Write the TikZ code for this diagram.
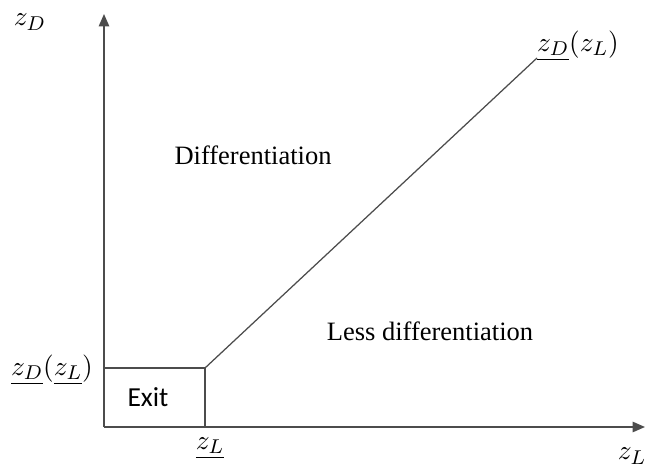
\documentclass[tikz,border=0pt]{standalone}
\usepackage{fontspec}
\setmainfont{Liberation Serif}
\newfontfamily\exitfont{Carlito}
\usetikzlibrary{arrows.meta}
\begin{document}
\begin{tikzpicture}[x=0.4pt, y=-0.4pt,
        axis/.style={draw=black!70, line width=0.6pt, -{Triangle[length=5pt,width=4.2pt]}},
        bound/.style={draw=black!70, line width=0.5pt},
        region/.style={font=\fontsize{10.6}{12}\selectfont},
        lbl/.style={font=\fontsize{11}{13}\selectfont, inner sep=1pt}]
        \useasboundingbox (0,0) rectangle (646,466);
        \coordinate (orig) at (104,427);
        \coordinate (ytop) at (104,14);
        \coordinate (xend) at (645,427);
        \coordinate (kink) at (205,368);
        \coordinate (far) at (537,58);
        % axes
        \draw[axis] (orig) -- (ytop);
        \draw[axis] (orig) -- (xend);
        % exit box and boundary
        \draw[bound] (orig |- kink) -- (kink) -- (kink |- orig);
        \draw[bound] (kink) -- (far);
        % labels
        \node[lbl] (zdlab) at (30,22) {$z_D$};
        \node[lbl] (zllab) at (632,456) {$z_L$};
        \node[lbl] (farlab) at (578,46) {$\underline{z_D}(z_L)$};
        \node[lbl] (kinklab) at (52,370) {$\underline{z_D}(\underline{z_L})$};
        \node[lbl] (footlab) at (210,448) {$\underline{z_L}$};
        \node[region] (diff) at (253,155) {Differentiation};
        \node[region] (less) at (430,331) {Less differentiation};
        \node[font=\exitfont\fontsize{11}{13}\selectfont] (exit) at (148,397) {Exit};
    \end{tikzpicture}
\end{document}
